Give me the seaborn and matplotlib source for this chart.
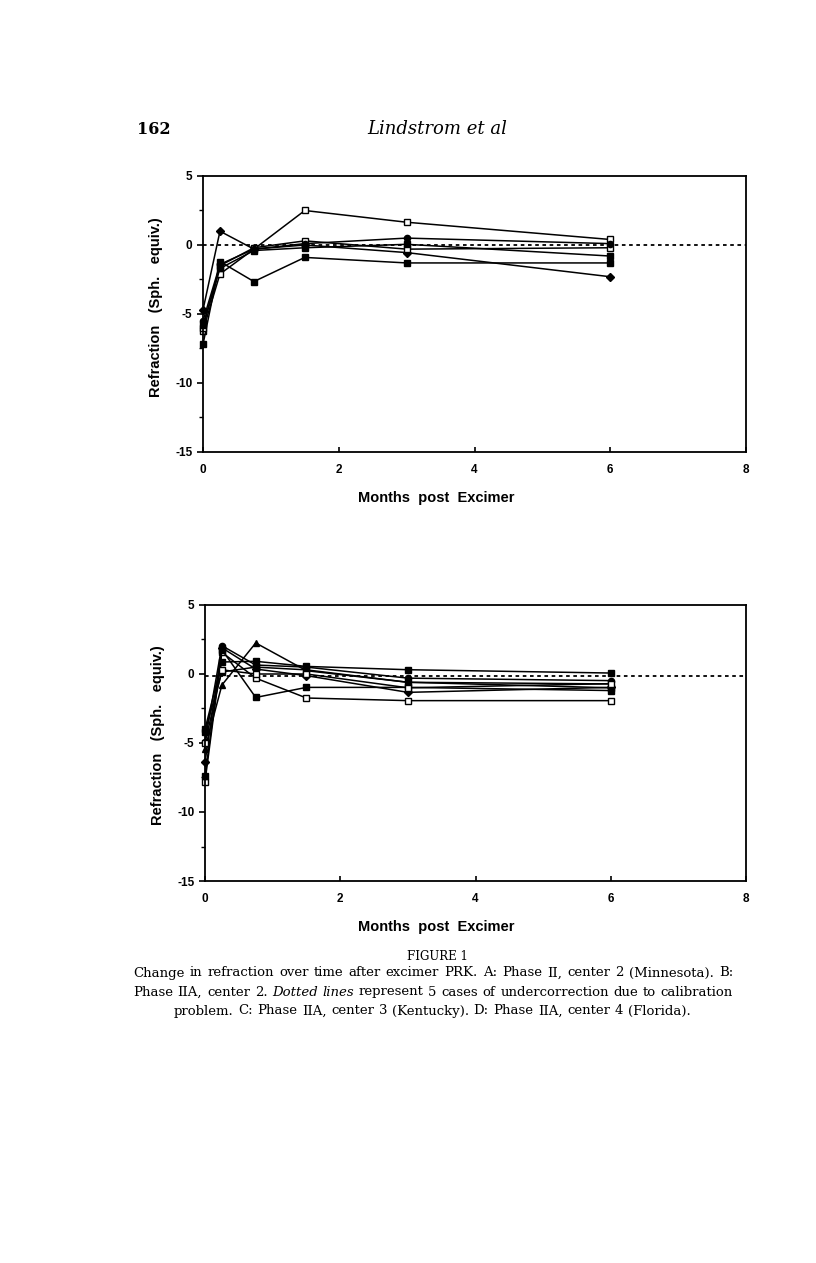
import numpy as np
import pandas as pd
import seaborn as sns
import matplotlib.pyplot as plt
from matplotlib.ticker import MultipleLocator

# time points (months after excimer)
months = [0, 0.25, 0.75, 1.5, 3, 6]

# panel A - phase II, center 2 (Minnesota)
a_open_hi = [-6.2, -2.1, -0.3, 2.5, 1.65, 0.4]
a_diamond = [-4.7, 1.0, -0.3, 0.0, -0.55, -2.3]
a_fill_lo = [-7.2, -1.2, -2.65, -0.9, -1.3, -1.3]
a_open_mid = [-6.0, -1.5, -0.2, 0.3, -0.3, -0.2]
a_circle = [-5.5, -1.4, -0.3, 0.1, 0.5, 0.1]
a_fill_mid = [-5.8, -1.7, -0.4, -0.2, 0.05, -0.8]

# panel B - phase IIA, center 2
b_open_lo = [-7.8, 1.57, -0.3, -1.74, -1.93, -1.93]
b_fill_hi = [-4.0, 0.87, 0.92, 0.55, 0.31, 0.07]
b_triangle = [-5.4, -0.8, 2.25, 0.24, -0.6, -0.72]
b_fill_lo = [-7.4, 1.76, -1.7, -0.97, -0.97, -1.2]
b_circle = [-4.9, 2.05, 0.65, 0.5, -0.3, -0.48]
b_diamond = [-6.4, 1.9, 0.36, -0.12, -1.33, -0.97]
b_fill_mid = [-4.2, 0.15, 0.5, 0.3, -0.6, -1.0]
b_open_mid = [-5.0, 0.3, 0.0, 0.0, -1.0, -0.7]

xticks = [0, 2, 4, 6, 8]
yticks = [-15, -10, -5, 0, 5]

sns.set_style("ticks")
plt.rcParams['font.family'] = ['Liberation Sans', 'DejaVu Sans']
plt.rcParams['font.weight'] = 'bold'
plt.rcParams['axes.unicode_minus'] = False
for k in ['text.color', 'axes.labelcolor', 'xtick.color', 'ytick.color', 'axes.edgecolor']:
    plt.rcParams[k] = 'black'

W, H = 816, 1263
fig = plt.figure(figsize=(W / 100, H / 100), dpi=100)


def px_axes(left, top, right, bottom):
    return fig.add_axes([left / W, 1 - bottom / H, (right - left) / W, (bottom - top) / H])


def draw_series(ax, vals, marker, filled, ms):
    sns.lineplot(x=months, y=vals, ax=ax, color='black', linewidth=1.1,
                 marker=marker, markersize=ms,
                 markerfacecolor='black' if filled else 'white',
                 markeredgecolor='black', markeredgewidth=1.0, clip_on=False)


def style_ax(ax, zero_y, lab_x, lab_y):
    ax.set_xlim(0, 8)
    ax.set_ylim(-15, 5)
    ax.set_xticks(xticks)
    ax.set_yticks(yticks)
    ax.yaxis.set_minor_locator(MultipleLocator(2.5))
    ax.axhline(zero_y, color='black', lw=1.3, ls=(0, (2, 2)), zorder=1)
    for s in ax.spines.values():
        s.set_visible(True)
        s.set_linewidth(1.3)
    ax.tick_params(axis='y', which='major', direction='out', length=4.5, width=1.2,
                   pad=3, labelsize=8.5)
    ax.tick_params(axis='y', which='minor', direction='out', length=3, width=1.0)
    ax.tick_params(axis='x', which='major', direction='in', length=3.5, width=1.2,
                   pad=9, labelsize=8.5)
    ax.set_xlabel("Months  post  Excimer", fontsize=10.5, fontweight='bold')
    ax.set_ylabel("Refraction   (Sph.   equiv.)", fontsize=10.5, fontweight='bold')
    ax.xaxis.set_label_coords(lab_x, -0.14)
    ax.yaxis.set_label_coords(-0.074, lab_y)


axA = px_axes(203, 176, 746, 452)
for vals, m, f, ms in [(a_open_hi, 's', False, 4.5), (a_diamond, 'D', True, 3.8),
                       (a_fill_lo, 's', True, 4.5), (a_open_mid, 's', False, 4.5),
                       (a_circle, 'o', True, 4.5), (a_fill_mid, 's', True, 4.5)]:
    draw_series(axA, vals, m, f, ms)
style_ax(axA, 0, 0.43, 0.525)

axB = px_axes(205, 605, 746, 881)
for vals, m, f, ms in [(b_open_lo, 's', False, 4.5), (b_fill_hi, 's', True, 4.5),
                       (b_triangle, '^', True, 4.5), (b_fill_lo, 's', True, 4.5),
                       (b_circle, 'o', True, 4.5), (b_diamond, 'D', True, 3.8),
                       (b_fill_mid, 's', True, 4.5), (b_open_mid, 's', False, 4.5)]:
    draw_series(axB, vals, m, f, ms)
style_ax(axB, -0.15, 0.427, 0.529)

# page header
serif = ['DejaVu Serif', 'Liberation Serif']
fig.text(137 / W, 1 - 129 / H, "162", family=serif, fontsize=11.5, weight='bold',
         ha='left', va='center')
fig.text(437 / W, 1 - 129 / H, "Lindstrom et al", family=serif, fontsize=13,
         style='italic', weight='normal', ha='center', va='center')

# caption
fig.text(437 / W, 1 - 956 / H, "FIGURE 1", family=serif, fontsize=8.5, weight='normal',
         ha='center', va='center')

renderer = fig.canvas.get_renderer()

line1 = "Change in refraction over time after excimer PRK. A: Phase II, center 2 (Minnesota). B:"
line2a = "Phase IIA, center 2."
line2b = "Dotted lines"
line2c = "represent 5 cases of undercorrection due to calibration"
line3 = "problem. C: Phase IIA, center 3 (Kentucky). D: Phase IIA, center 4 (Florida)."

# fit the caption size so the first line is as wide as in the print
probe = fig.text(0, 0, line1, family=serif, fontsize=10, weight='normal')
cap_fs = 10 * 592 / probe.get_window_extent(renderer).width
probe.remove()


def put_line(words, y, x0, x1=None):
    # words: list of (text, italic)
    arts = []
    for w, it in words:
        t = fig.text(0, 1 - y / H, w, family=serif, fontsize=cap_fs, weight='normal',
                     style='italic' if it else 'normal', ha='left', va='center')
        arts.append(t)
    widths = [a.get_window_extent(renderer).width for a in arts]
    if x1 is None:
        p1 = fig.text(0, 0, "a b", family=serif, fontsize=cap_fs)
        p2 = fig.text(0, 0, "ab", family=serif, fontsize=cap_fs)
        sp = p1.get_window_extent(renderer).width - p2.get_window_extent(renderer).width
        p1.remove()
        p2.remove()
        total = sum(widths) + sp * (len(arts) - 1)
        x = x0 - total / 2
    else:
        sp = (x1 - x0 - sum(widths)) / (len(arts) - 1)
        x = x0
    for a, w in zip(arts, widths):
        a.set_x(x / W)
        x += w + sp


put_line([(w, False) for w in line1.split()], 973, 133, 733)
put_line([(w, False) for w in line2a.split()] + [(w, True) for w in line2b.split()]
         + [(w, False) for w in line2c.split()], 992, 133, 733)
put_line([(w, False) for w in line3.split()], 1011, 432)

fig.savefig("out.png", dpi=100)
